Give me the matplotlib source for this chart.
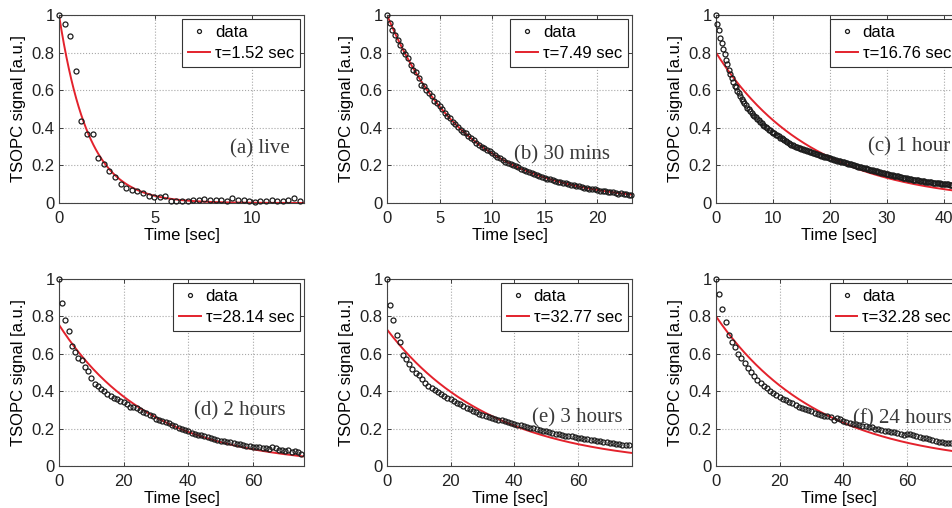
import matplotlib
matplotlib.use("Agg")
import matplotlib.pyplot as plt
import numpy as np

plt.rcParams["font.family"] = ["Liberation Sans", "DejaVu Sans"]

# ---- data ----
panel_text = ["(a) live", "(b) 30 mins", "(c) 1 hour", "(d) 2 hours", "(e) 3 hours", "(f) 24 hours"]
text_pos = [(0.70, 0.29), (0.52, 0.255), (0.62, 0.30), (0.55, 0.294), (0.59, 0.26), (0.56, 0.25)]
taus = [1.52, 7.49, 16.76, 28.14, 32.77, 32.28]
amps = [1.00, 1.00, 0.80, 0.755, 0.73, 0.80]
time_step = [0.29, 0.25, 0.25, 1.0, 1.0, 1.0]
x_max = [12.7, 23.3, 43.0, 75.8, 77.0, 77.0]
x_ticks = [[0, 5, 10], [0, 5, 10, 15, 20], [0, 10, 20, 30, 40],
           [0, 20, 40, 60], [0, 20, 40, 60], [0, 20, 40, 60]]

sig_a = [1.0, 0.95, 0.89, 0.70, 0.435, 0.367, 0.367, 0.24, 0.21, 0.17,
         0.14, 0.10, 0.08, 0.07, 0.066, 0.053, 0.035, 0.03, 0.03, 0.035,
         0.012, 0.009, 0.009, 0.012, 0.018, 0.014, 0.021, 0.018, 0.014, 0.018,
         0.012, 0.027, 0.018, 0.014, 0.009, 0.004, 0.012, 0.012, 0.014, 0.012,
         0.009, 0.018, 0.027, 0.012]

sig_b = [1.0, 0.955, 0.92, 0.895, 0.865, 0.84, 0.81, 0.79, 0.77, 0.735,
         0.71, 0.695, 0.665, 0.63, 0.62, 0.60, 0.585, 0.57, 0.545, 0.53,
         0.515, 0.50, 0.48, 0.465, 0.45, 0.43, 0.42, 0.405, 0.39, 0.38,
         0.37, 0.355, 0.345, 0.335, 0.32, 0.31, 0.30, 0.29, 0.28, 0.275,
         0.265, 0.255, 0.245, 0.24, 0.23, 0.22, 0.215, 0.21, 0.20, 0.195,
         0.19, 0.18, 0.175, 0.17, 0.165, 0.16, 0.153, 0.148, 0.143, 0.14,
         0.135, 0.13, 0.127, 0.123, 0.118, 0.113, 0.11, 0.107, 0.105, 0.10,
         0.097, 0.094, 0.09, 0.088, 0.085, 0.082, 0.08, 0.076, 0.074, 0.072,
         0.068, 0.066, 0.063, 0.062, 0.06, 0.058, 0.056, 0.054, 0.05, 0.055,
         0.047, 0.048, 0.045, 0.044]

sig_c = [1.00, 0.95, 0.92, 0.88, 0.85, 0.82, 0.79, 0.76, 0.74, 0.71,
         0.685, 0.665, 0.645, 0.625, 0.615, 0.595, 0.585, 0.57, 0.555, 0.545,
         0.53, 0.52, 0.505, 0.50, 0.49, 0.48, 0.47, 0.462, 0.455, 0.445,
         0.44, 0.43, 0.425, 0.415, 0.41, 0.405, 0.398, 0.39, 0.386, 0.38,
         0.375, 0.37, 0.363, 0.36, 0.355, 0.348, 0.345, 0.34, 0.335, 0.33,
         0.325, 0.32, 0.316, 0.31, 0.307, 0.303, 0.30, 0.297, 0.295, 0.292,
         0.289, 0.286, 0.284, 0.281, 0.278, 0.275, 0.272, 0.27, 0.267, 0.264,
         0.262, 0.259, 0.257, 0.254, 0.252, 0.25, 0.247, 0.245, 0.243, 0.24,
         0.238, 0.236, 0.233, 0.231, 0.229, 0.226, 0.224, 0.222, 0.22, 0.218,
         0.216, 0.214, 0.212, 0.21, 0.207, 0.205, 0.203, 0.20, 0.198, 0.196,
         0.194, 0.192, 0.19, 0.188, 0.186, 0.184, 0.182, 0.18, 0.178, 0.176,
         0.174, 0.172, 0.17, 0.168, 0.166, 0.164, 0.162, 0.16, 0.158, 0.156,
         0.155, 0.153, 0.151, 0.15, 0.148, 0.146, 0.144, 0.142, 0.141, 0.139,
         0.137, 0.135, 0.134, 0.132, 0.131, 0.13, 0.128, 0.126, 0.125, 0.123,
         0.122, 0.121, 0.12, 0.118, 0.117, 0.116, 0.115, 0.114, 0.113, 0.112,
         0.111, 0.11, 0.109, 0.108, 0.107, 0.106, 0.105, 0.104, 0.103, 0.102,
         0.101, 0.10, 0.10, 0.099, 0.098, 0.098, 0.097, 0.096, 0.096, 0.095,
         0.095, 0.094]

sig_d = [1.0, 0.87, 0.78, 0.72, 0.64, 0.61, 0.58, 0.567, 0.53, 0.51,
         0.47, 0.44, 0.43, 0.41, 0.40, 0.385, 0.375, 0.365, 0.36, 0.35,
         0.34, 0.33, 0.318, 0.315, 0.31, 0.30, 0.29, 0.282, 0.275, 0.265,
         0.25, 0.246, 0.24, 0.233, 0.228, 0.22, 0.213, 0.205, 0.198, 0.19,
         0.186, 0.178, 0.172, 0.168, 0.165, 0.158, 0.153, 0.15, 0.146, 0.14,
         0.135, 0.133, 0.13, 0.126, 0.121, 0.12, 0.118, 0.114, 0.109, 0.107,
         0.103, 0.102, 0.10, 0.097, 0.094, 0.09, 0.103, 0.095, 0.086, 0.085,
         0.082, 0.083, 0.077, 0.08, 0.075, 0.062]

sig_e = [1.0, 0.86, 0.78, 0.70, 0.665, 0.594, 0.57, 0.545, 0.52, 0.50,
         0.485, 0.463, 0.446, 0.43, 0.418, 0.406, 0.395, 0.385, 0.372, 0.364,
         0.356, 0.346, 0.338, 0.33, 0.32, 0.312, 0.303, 0.295, 0.287, 0.28,
         0.275, 0.267, 0.262, 0.257, 0.254, 0.248, 0.245, 0.24, 0.236, 0.23,
         0.225, 0.221, 0.217, 0.213, 0.21, 0.205, 0.201, 0.197, 0.192, 0.188,
         0.185, 0.18, 0.176, 0.172, 0.169, 0.166, 0.163, 0.16, 0.158, 0.156,
         0.152, 0.148, 0.146, 0.143, 0.14, 0.138, 0.134, 0.132, 0.128, 0.126,
         0.124, 0.121, 0.119, 0.116, 0.114, 0.112, 0.111]

sig_f = [1.0, 0.92, 0.84, 0.77, 0.70, 0.665, 0.635, 0.60, 0.576, 0.55,
         0.522, 0.505, 0.48, 0.46, 0.443, 0.428, 0.415, 0.40, 0.388, 0.378,
         0.368, 0.36, 0.352, 0.342, 0.335, 0.326, 0.318, 0.31, 0.305, 0.30,
         0.292, 0.283, 0.278, 0.274, 0.268, 0.265, 0.26, 0.246, 0.255, 0.25,
         0.24, 0.236, 0.23, 0.226, 0.222, 0.219, 0.216, 0.213, 0.208, 0.207,
         0.20, 0.197, 0.193, 0.189, 0.186, 0.184, 0.18, 0.175, 0.171, 0.166,
         0.17, 0.172, 0.165, 0.16, 0.155, 0.15, 0.148, 0.143, 0.139, 0.135,
         0.13, 0.128, 0.125, 0.123, 0.121, 0.12, 0.118]

signals = [sig_a, sig_b, sig_c, sig_d, sig_e, sig_f]

# ---- layout (pixels of the 952x508 reference) ----
W, H = 952, 508
col_left = [59, 387, 716]
ax_w = 245
rows = [(15, 188), (279, 187)]  # (top, height)

fig = plt.figure(figsize=(W / 100, H / 100), dpi=100)

for i in range(6):
    r, c = divmod(i, 3)
    top, h = rows[r]
    ax = fig.add_axes([col_left[c] / W, 1 - (top + h) / H, ax_w / W, h / H])

    t = np.arange(len(signals[i])) * time_step[i]
    t_fit = np.linspace(0, x_max[i], 300)
    fit = amps[i] * np.exp(-t_fit / taus[i])

    ax.plot(t, signals[i], "o", ms=3.6, mfc="none", mec="#1c1c1c", mew=0.9,
            label="data", clip_on=False, zorder=3)
    ax.plot(t_fit, fit, "-", color="#e3222c", lw=1.4, zorder=2,
            label=f"\u03c4={taus[i]:.2f} sec")

    ax.set_xlim(0, x_max[i])
    ax.set_ylim(0, 1)
    ax.set_xticks(x_ticks[i])
    ax.set_yticks([0, 0.2, 0.4, 0.6, 0.8, 1])
    ax.set_yticklabels(["0", "0.2", "0.4", "0.6", "0.8", "1"])
    ax.tick_params(direction="in", length=3, width=0.6, labelsize=12,
                   top=True, right=True, colors="#222222")
    ax.tick_params(axis="x", pad=6)
    ax.tick_params(axis="y", pad=3)
    ax.grid(True, linestyle=":", color="#a8a8a8", linewidth=0.8)
    for s in ax.spines.values():
        s.set_color("#444444")
        s.set_linewidth(0.8)

    ax.set_xlabel("Time [sec]", fontsize=12, labelpad=1)
    ax.set_ylabel("TSOPC signal [a.u.]", fontsize=12, labelpad=4)

    leg = ax.legend(loc="upper right", fontsize=12, frameon=True, fancybox=False,
                    edgecolor="#333333", borderaxespad=0.25, borderpad=0.35,
                    labelspacing=0.35, handlelength=1.3, handletextpad=0.3,
                    markerscale=0.8, numpoints=1, framealpha=1)
    leg.get_frame().set_linewidth(0.8)
    leg.set_zorder(5)

    tx, ty = text_pos[i]
    ax.text(tx, ty, panel_text[i], transform=ax.transAxes, ha="left",
            va="center", fontsize=15, family="Liberation Serif", color="#3a3a3a")

fig.savefig("out.png", dpi=100)
